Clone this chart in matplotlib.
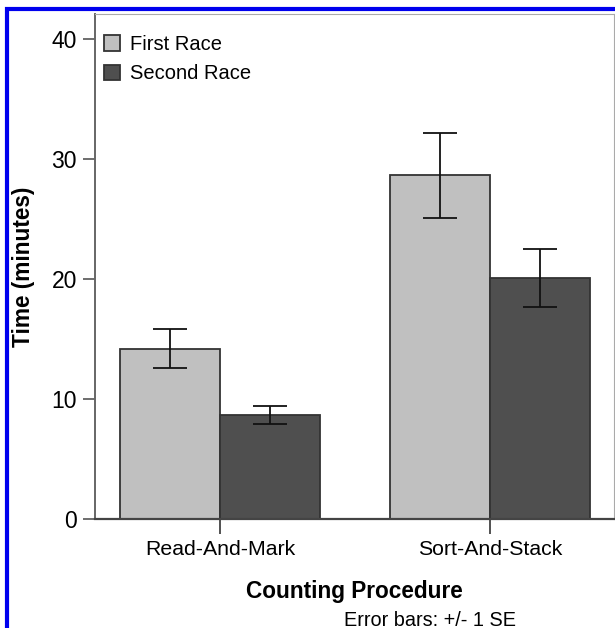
import numpy as np
import matplotlib.pyplot as plt
from matplotlib.patches import Rectangle

plt.rcParams['font.family'] = ['Liberation Sans', 'DejaVu Sans']

# mean counting time (minutes) and standard errors
procedures = ['Read-And-Mark', 'Sort-And-Stack']
first_race = [14.2, 28.65]
first_se = [1.6, 3.55]
second_race = [8.7, 20.1]
second_se = [0.75, 2.4]

fig = plt.figure(figsize=(6.15, 6.28), dpi=100)
ax = fig.add_axes([95/615, 1 - 519/628, 519/615, 505/628])

x = np.arange(len(procedures))
w = 0.37
err_kw = dict(ecolor='#111111', elinewidth=1.3, capsize=12, capthick=1.3)
ax.bar(x - w/2, first_race, w, yerr=first_se, color='#c0c0c0',
       edgecolor='#333333', linewidth=1.3, label='First Race', error_kw=err_kw)
ax.bar(x + w/2, second_race, w, yerr=second_se, color='#4f4f4f',
       edgecolor='#333333', linewidth=1.3, label='Second Race', error_kw=err_kw)

ax.set_xlim(-0.463, 1.459)
ax.set_ylim(0, 42.1)
ax.set_yticks([0, 10, 20, 30, 40])
ax.set_xticks(x)
ax.set_xticklabels(procedures)
ax.tick_params(axis='y', labelsize=16.5, length=9, width=1.2, color='#555555', pad=4)
ax.tick_params(axis='x', labelsize=15.3, length=11, width=1.2, color='#333333', pad=4)

for s in ['top', 'right']:
    ax.spines[s].set_color('#aaaaaa')
ax.spines['left'].set_color('#666666')
ax.spines['left'].set_linewidth(1.4)
ax.spines['bottom'].set_color('#444444')
ax.spines['bottom'].set_linewidth(1.6)

ax.set_ylabel('Time (minutes)', fontsize=16.3, fontweight='bold', labelpad=12)
ax.set_xlabel('Counting Procedure', fontsize=16.3, fontweight='bold', labelpad=15)
fig.text(430/615, 1 - 620/628, 'Error bars: +/- 1 SE', fontsize=14.3,
         ha='center', va='center')

ax.legend(loc='upper left', frameon=False, fontsize=14.5, handlelength=0.8,
          handleheight=0.8, handletextpad=0.5, labelspacing=0.5,
          borderaxespad=0.3, bbox_to_anchor=(-0.0096, 0.986))

# blue frame around the figure
fig.patches.append(Rectangle((7/615, -0.1), 1.2, 1 - 9/628 + 0.1,
                             transform=fig.transFigure, fill=False,
                             edgecolor='#0000ee', linewidth=3))

plt.savefig('out.png', dpi=100)
